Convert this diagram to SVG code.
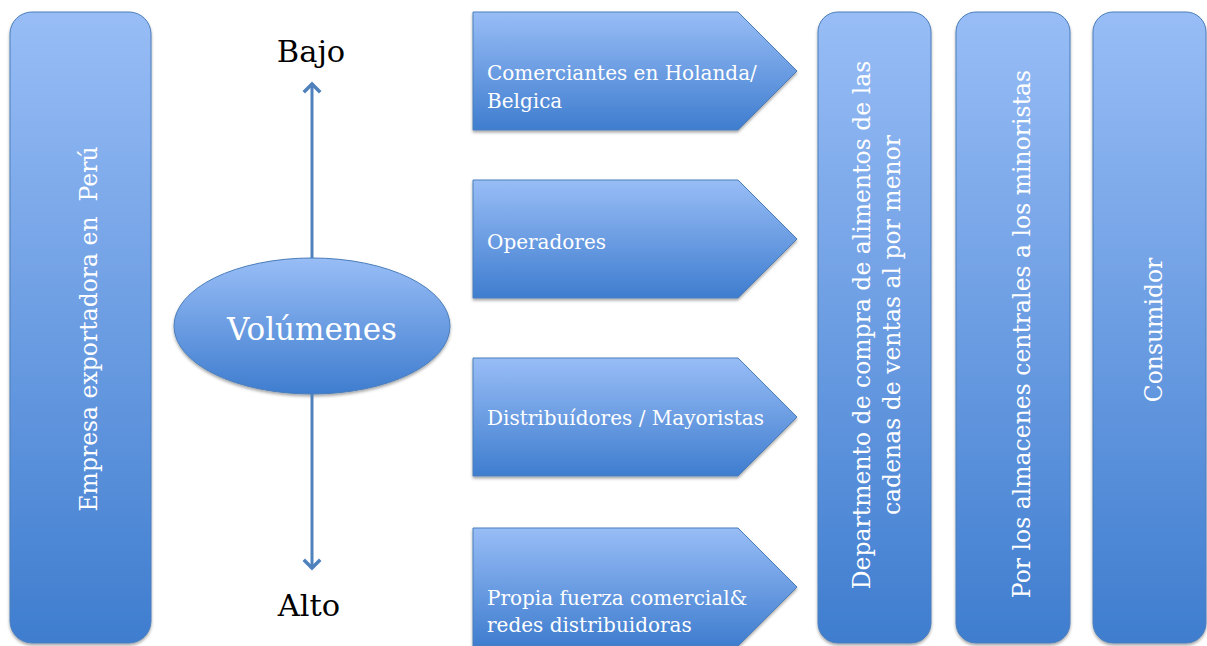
<svg xmlns="http://www.w3.org/2000/svg" width="1207" height="646" viewBox="0 0 1207 646">
<defs>
<linearGradient id="g" x1="0" y1="0" x2="0" y2="1">
<stop offset="0" stop-color="#98BDF6"/>
<stop offset="1" stop-color="#3F7DCF"/>
</linearGradient>
<filter id="sh" x="-10%" y="-10%" width="120%" height="120%">
<feDropShadow dx="0" dy="2" stdDeviation="1.8" flood-color="#000" flood-opacity="0.35"/>
</filter>
<marker id="ah" markerUnits="userSpaceOnUse" markerWidth="20" markerHeight="20" refX="10" refY="10" orient="auto" viewBox="0 0 20 20">
<path d="M3,3 L10,10 L3,17" fill="none" stroke="#4F81BD" stroke-width="3.5" stroke-linecap="square"/>
</marker>
</defs>
<style>
.box{fill:url(#g);stroke:#4A7EBB;stroke-width:1;filter:url(#sh)}
.wt{fill:#FFFFFF;font-family:"DejaVu Serif","Liberation Serif",serif}
.vt{font-size:23.5px}
.pt{font-size:20px}
.bt{fill:#000000;font-family:"DejaVu Serif","Liberation Serif",serif;font-size:30.5px}
.conn{stroke:#4F81BD;stroke-width:3;fill:none}
</style>

<g id="empresa">
<rect class="box" x="10" y="12" width="141" height="631" rx="22"/>
<text class="wt vt" text-anchor="middle" transform="translate(97,329) rotate(-90)" style="white-space:pre">Empresa exportadora en  Perú</text>
</g>

<g id="volumenes">
<ellipse class="box" cx="312" cy="326" rx="138" ry="68"/>
<text class="wt" font-size="31" text-anchor="middle" x="312" y="340">Volúmenes</text>
</g>

<g id="bajo">
<text class="bt" text-anchor="middle" x="311" y="62">Bajo</text>
</g>
<g id="alto">
<text class="bt" text-anchor="middle" x="309" y="616">Alto</text>
</g>

<g id="comerciantes">
<path class="box" d="M473,12 H738 L797,71 L738,130 H473 Z"/>
<text class="wt pt" x="487" y="80">Comerciantes en Holanda/</text>
<text class="wt pt" x="487" y="108">Belgica</text>
</g>

<g id="operadores">
<path class="box" d="M473,180 H738 L797,239 L738,298 H473 Z"/>
<text class="wt pt" x="487" y="249">Operadores</text>
</g>

<g id="distribuidores">
<path class="box" d="M473,358 H738 L797,417 L738,476 H473 Z"/>
<text class="wt pt" x="487" y="425">Distribuídores / Mayoristas</text>
</g>

<g id="propia">
<path class="box" d="M473,528 H738 L797,587 L738,646 H473 Z"/>
<text class="wt pt" x="487" y="605">Propia fuerza comercial&amp;</text>
<text class="wt pt" x="487" y="632">redes distribuidoras</text>
</g>

<g id="departamento">
<rect class="box" x="818" y="12" width="113" height="631" rx="20"/>
<text class="wt vt" text-anchor="middle" transform="translate(870,325) rotate(-90)">Departmento de compra de alimentos de las</text>
<text class="wt vt" text-anchor="middle" transform="translate(900,325) rotate(-90)">cadenas de ventas al por menor</text>
</g>

<g id="almacenes">
<rect class="box" x="956" y="12" width="114" height="631" rx="20"/>
<text class="wt vt" text-anchor="middle" transform="translate(1030,334) rotate(-90)">Por los almacenes centrales a los minoristas</text>
</g>

<g id="consumidor">
<rect class="box" x="1093" y="12" width="113" height="631" rx="20"/>
<text class="wt vt" text-anchor="middle" transform="translate(1162,330) rotate(-90)">Consumidor</text>
</g>

<g id="connectors">
<line class="conn" x1="312" y1="258" x2="312" y2="84" marker-end="url(#ah)"/>
<line class="conn" x1="312" y1="394" x2="312" y2="568" marker-end="url(#ah)"/>
</g>
</svg>
